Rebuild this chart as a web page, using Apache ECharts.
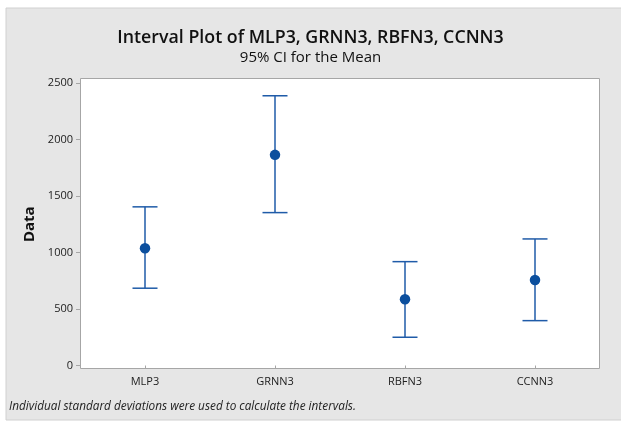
<!DOCTYPE html>
<html><head><meta charset="utf-8">
<script src="https://cdn.jsdelivr.net/npm/echarts@6/dist/echarts.min.js"></script>
<style>html,body{margin:0;padding:0;background:#fff}#c{width:621px;height:422px}</style>
</head><body><div id="c"></div>
<script>
const categories = ['MLP3', 'GRNN3', 'RBFN3', 'CCNN3'];
const means = [1038, 1864, 586, 757];
const lowers = [684, 1353, 250, 397];
const uppers = [1404, 2387, 919, 1120];
const yTicks = [0, 500, 1000, 1500, 2000, 2500];

const FONT = '"Open Sans", "Noto Sans", sans-serif';
const BLUE = '#1f5ba8';
const chart = echarts.init(document.getElementById('c'), null, {renderer: 'canvas'});

const errData = categories.map((c, i) => [i, lowers[i], uppers[i]]);
const meanData = categories.map((c, i) => [i, means[i]]);

chart.setOption({
  backgroundColor: '#ffffff',
  animation: false,
  graphic: [
    {type: 'rect', z: -10, shape: {x: 6, y: 8, width: 620, height: 412},
     style: {fill: '#e6e6e6', stroke: '#d0d0d0', lineWidth: 1}},
    {type: 'rect', z: -5, shape: {x: 80.5, y: 78.5, width: 519, height: 290},
     style: {fill: '#ffffff', stroke: '#a6a6a6', lineWidth: 1}},
    {type: 'text', left: 9, top: 401, z: 5,
     style: {text: 'Individual standard deviations were used to calculate the intervals.',
       font: 'italic 11.8px ' + FONT, fill: '#222'}}
  ],
  title: {
    text: 'Interval Plot of MLP3, GRNN3, RBFN3, CCNN3',
    subtext: '95% CI for the Mean',
    left: 'center', top: 23.5, itemGap: 4,
    textStyle: {fontFamily: FONT, fontSize: 17.8, fontWeight: 600, color: '#111'},
    subtextStyle: {fontFamily: FONT, fontSize: 15, fontWeight: 'normal', color: '#111'}
  },
  grid: {left: 80, right: 21, top: 83, bottom: 56.5, show: false},
  xAxis: {
    type: 'category', data: categories, boundaryGap: true, offset: 3.5,
    axisLine: {show: false},
    axisTick: {show: true, alignWithLabel: true, length: 3, lineStyle: {color: '#a6a6a6'}},
    axisLabel: {fontFamily: FONT, fontSize: 11, color: '#222', margin: 7},
    splitLine: {show: false}
  },
  yAxis: {
    type: 'value', min: 0, max: 2500, interval: 500,
    name: 'Data', nameLocation: 'middle', nameGap: 42, nameRotate: 90,
    nameTextStyle: {fontFamily: FONT, fontSize: 15, fontWeight: 'bold', color: '#111'},
    axisLine: {show: false},
    axisTick: {show: true, length: 4, lineStyle: {color: '#a6a6a6'}},
    axisLabel: {fontFamily: FONT, fontSize: 11, color: '#222', margin: 7,
      formatter: function (v) { return String(v); }},
    splitLine: {show: false}
  },
  series: [
    {
      type: 'custom',
      data: errData,
      encode: {x: 0, y: [1, 2]},
      renderItem: function (params, api) {
        const x = api.value(0);
        const lo = api.coord([x, api.value(1)]);
        const hi = api.coord([x, api.value(2)]);
        const hw = 12.5;
        const st = {stroke: BLUE, lineWidth: 1.5, fill: null};
        return {type: 'group', children: [
          {type: 'line', shape: {x1: lo[0], y1: lo[1], x2: hi[0], y2: hi[1]}, style: st},
          {type: 'line', shape: {x1: lo[0] - hw, y1: lo[1], x2: lo[0] + hw, y2: lo[1]}, style: st},
          {type: 'line', shape: {x1: hi[0] - hw, y1: hi[1], x2: hi[0] + hw, y2: hi[1]}, style: st}
        ]};
      },
      z: 2
    },
    {
      type: 'scatter', data: meanData, symbol: 'circle', symbolSize: 10.5,
      itemStyle: {color: '#0b4f9e', opacity: 1}, z: 3
    }
  ]
});
</script></body></html>
